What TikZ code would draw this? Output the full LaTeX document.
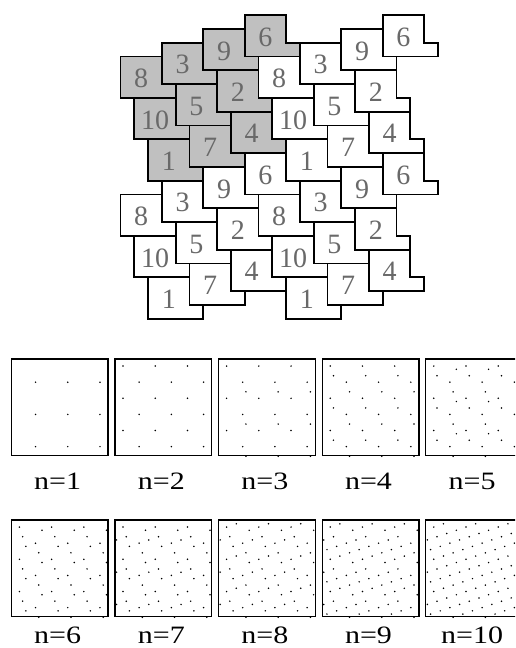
\documentclass[tikz,border=0pt]{standalone}
\usepackage{fontspec}
\setmainfont{Liberation Serif}
\definecolor{tilegray}{RGB}{192,192,192}
\definecolor{numgray}{RGB}{105,105,105}
\begin{document}
\begin{tikzpicture}[x=1pt, y=-1pt,
    tile/.style={line width=1.7pt, line join=miter},
    tilenum/.style={text=numgray, inner sep=0pt, font=\fontsize{28}{28}\selectfont},
    frame/.style={draw, line width=1.3pt, minimum size=96.7pt, inner sep=0pt},
    caption/.style={anchor=base, inner sep=0pt, font=\fontsize{25}{25}\selectfont}]
    \clip (0,0) rectangle (515,648);

    % Tiling: four copies of the ten tiles, the top-left copy shaded
    \begin{scope}[shift={(120.5,56.5)}, x=13.8pt, y=-13.8pt]
        % fills first
        \foreach \a/\b/\col in {0/0/tilegray, 1/0/white, 0/1/white, 1/1/white}
        \foreach \i/\j in {0/0, 1/0, 2/0, 3/0, 0/1, 1/1, 2/1, 0/2, 1/2, 2/2}
        {
            \pgfmathsetmacro\px{3*\i+\j+10*\a}
            \pgfmathsetmacro\py{-\i+3*\j+10*\b}
            \fill[\col] (\px,\py) -- ++(3,0) -- ++(0,2) -- ++(1,0)
                -- ++(0,1) -- ++(-4,0) -- cycle;
        }
        % then outlines and numbers
        \foreach \a/\b in {0/0, 1/0, 0/1, 1/1}
        \foreach \i/\j/\n in {0/0/8, 1/0/3, 2/0/9, 3/0/6, 0/1/10, 1/1/5, 2/1/2, 0/2/1, 1/2/7, 2/2/4}
        {
            \pgfmathsetmacro\px{3*\i+\j+10*\a}
            \pgfmathsetmacro\py{-\i+3*\j+10*\b}
            \draw[tile] (\px,\py) -- ++(3,0) -- ++(0,2) -- ++(1,0)
                -- ++(0,1) -- ++(-4,0) -- cycle;
            \node[tilenum] (t\a\b-\n) at (\px+1.5,\py+1.6) {\n};
        }
    \end{scope}

    % Point sets n=1..10, each a 30x30 window of the tiles 1..n
    \foreach \k in {1,...,10}
    {
        \pgfmathtruncatemacro\row{(\k-1)/5}
        \pgfmathtruncatemacro\col{\k-1-5*\row}
        \pgfmathsetmacro\sx{10.7+103.6*\col}
        \pgfmathsetmacro\sy{358.3+161*\row}
        \pgfmathsetmacro\cy{\sy+131-7*\row}
        \node[frame, anchor=north west] (sq\k) at (\sx,\sy) {};
        \begin{scope}[shift={(sq\k.south west)}, x=3.2233pt, y=3.2233pt]
            \foreach \L/\dx/\dy in {1/7.7/3, 2/2.7/8, 3/8.7/0, 4/3.7/5, 5/9.7/7,
                6/4.7/2, 7/0.7/4, 8/5.7/9, 9/1.7/1, 10/6.7/6}
            {
                \ifnum\L>\k\else
                    \foreach \m in {0,10,20}
                    \foreach \q in {0,10,20}
                        \fill (\dx+\m,\dy+\q) circle (0.85pt);
                \fi
            }
        \end{scope}
        \node[caption] (cap\k) at (\sx+47,\cy) {\scalebox{1.2}[1]{n=\k}};
    }
\end{tikzpicture}
\end{document}
